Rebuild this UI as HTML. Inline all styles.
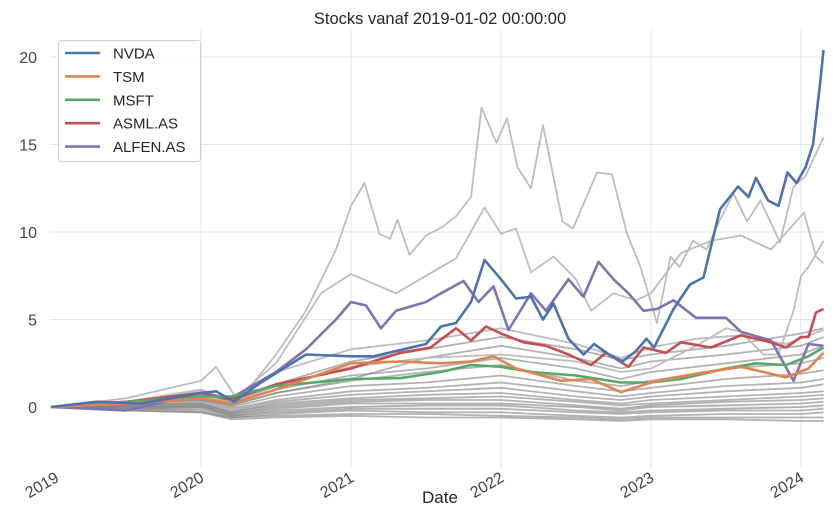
<!DOCTYPE html>
<html><head><meta charset="utf-8">
<style>
html,body{margin:0;padding:0;background:#fff;}
svg{display:block;font-family:"Liberation Sans",sans-serif;}
</style></head>
<body>
<svg id="chart" width="834" height="518" viewBox="0 0 834 518" xmlns="http://www.w3.org/2000/svg">
  <text x="440" y="24" text-anchor="middle" font-size="16.5" fill="#262626">Stocks vanaf 2019-01-02 00:00:00</text>
  <g id="grid"></g>
  <g id="gray"></g>
  <g id="main"></g>
  <g id="axes"></g>
  <text x="440" y="503" text-anchor="middle" font-size="17" fill="#262626">Date</text>
  <g id="legend"></g>
</svg>
<script>
const yTicks = [0, 5, 10, 15, 20];
const yTickLabels = ["0", "5", "10", "15", "20"];
const xTicks = [2019, 2020, 2021, 2022, 2023, 2024];
const xTickLabels = ["2019", "2020", "2021", "2022", "2023", "2024"];
const seriesNames = ["NVDA", "TSM", "MSFT", "ASML.AS", "ALFEN.AS"];
const seriesColors = ["#4c72b0", "#dd8452", "#55a868", "#c44e52", "#8172b3"];

const nvdaT = [2019,2019.3,2019.6,2020,2020.1,2020.22,2020.4,2020.55,2020.7,2021,2021.15,2021.35,2021.5,2021.6,2021.7,2021.8,2021.89,2022,2022.1,2022.2,2022.28,2022.35,2022.45,2022.55,2022.62,2022.72,2022.81,2022.9,2022.97,2023.02,2023.15,2023.26,2023.35,2023.46,2023.58,2023.65,2023.7,2023.78,2023.85,2023.91,2023.97,2024.03,2024.08,2024.13,2024.15];
const nvdaV = [0,0.3,0.2,0.8,0.9,0.3,1.4,2.2,3.0,2.9,2.9,3.3,3.6,4.6,4.8,6.0,8.4,7.3,6.2,6.3,5.0,5.9,3.9,3.0,3.6,3.0,2.6,3.2,3.9,3.4,5.6,7.0,7.4,11.3,12.6,12.0,13.1,11.8,11.5,13.4,12.8,13.7,15.0,18.7,20.4];
const tsmT = [2019,2019.5,2020,2020.2,2020.5,2021,2021.33,2021.6,2021.8,2021.95,2022.1,2022.4,2022.6,2022.8,2023,2023.3,2023.6,2023.9,2024.05,2024.15];
const tsmV = [0,0.2,0.5,0.2,1.0,2.5,2.6,2.5,2.6,2.9,2.2,1.5,1.6,0.85,1.4,1.9,2.3,1.7,2.2,3.1];
const msftT = [2019,2019.5,2020,2020.2,2020.5,2021,2021.33,2021.6,2021.8,2022,2022.2,2022.5,2022.8,2023,2023.2,2023.5,2023.7,2023.9,2024.05,2024.15];
const msftV = [0,0.3,0.6,0.6,1.2,1.6,1.65,2.0,2.4,2.3,2.0,1.8,1.4,1.4,1.6,2.2,2.5,2.4,2.9,3.4];
const asmlT = [2019,2019.5,2020,2020.2,2020.5,2021,2021.33,2021.53,2021.7,2021.8,2021.9,2022,2022.15,2022.3,2022.45,2022.6,2022.7,2022.85,2022.95,2023.1,2023.2,2023.4,2023.6,2023.8,2023.9,2024,2024.05,2024.1,2024.15];
const asmlV = [0,0.3,0.8,0.4,1.3,2.2,3.1,3.4,4.5,3.8,4.6,4.2,3.7,3.5,3.0,2.4,3.1,2.3,3.4,3.1,3.7,3.4,4.1,3.7,3.4,4.0,4.0,5.4,5.6];
const alfenT = [2019,2019.5,2020,2020.2,2020.5,2020.7,2020.9,2021,2021.1,2021.2,2021.3,2021.5,2021.6,2021.75,2021.85,2021.95,2022.05,2022.2,2022.3,2022.45,2022.55,2022.65,2022.75,2022.85,2022.95,2023.04,2023.15,2023.3,2023.5,2023.6,2023.8,2023.95,2024.05,2024.15];
const alfenV = [0,-0.2,0.8,0.5,2.0,3.3,5.0,6.0,5.8,4.5,5.5,6.0,6.5,7.2,6.0,6.9,4.4,6.5,5.5,7.3,6.3,8.3,7.3,6.5,5.5,5.6,6.1,5.1,5.1,4.3,3.8,1.5,3.6,3.5];

const g1T = [2019,2019.5,2020,2020.1,2020.25,2020.5,2020.7,2020.9,2021,2021.09,2021.19,2021.26,2021.31,2021.39,2021.5,2021.61,2021.7,2021.8,2021.87,2021.97,2022.04,2022.11,2022.2,2022.28,2022.41,2022.48,2022.64,2022.74,2022.84,2022.93,2023.04,2023.13,2023.19,2023.28,2023.37,2023.46,2023.55,2023.64,2023.73,2023.86,2023.95,2024.03,2024.15];
const g1V = [0,0.5,1.5,2.3,0.3,3.0,5.5,9.0,11.5,12.8,9.9,9.6,10.7,8.7,9.8,10.3,10.9,12.0,17.1,15.1,16.5,13.7,12.5,16.1,10.6,10.2,13.4,13.3,9.9,8.0,4.8,8.6,8.0,9.5,9.0,10.7,12.2,10.6,11.8,9.4,12.6,13.2,15.4];
const g2T = [2019,2019.5,2020,2020.2,2020.5,2020.8,2021,2021.3,2021.5,2021.7,2021.89,2022,2022.1,2022.2,2022.35,2022.5,2022.6,2022.75,2022.9,2023,2023.2,2023.4,2023.6,2023.8,2024.02,2024.1,2024.15];
const g2V = [0,0.3,1.0,0.3,2.5,6.5,7.6,6.5,7.5,8.5,11.4,9.9,10.2,7.7,8.6,7.3,5.5,6.5,6.1,6.5,8.8,9.5,9.8,9.0,11.1,8.6,8.2];
const g3T = [2019,2019.5,2020,2020.2,2020.5,2021,2021.5,2022,2022.5,2022.8,2023,2023.3,2023.5,2023.6,2023.75,2023.85,2023.95,2024,2024.05,2024.15];
const g3V = [0,0.2,0.6,0.2,1.2,2.3,2.8,3.0,2.6,2.0,2.2,3.5,4.5,4.3,3.0,3.0,5.5,7.5,8.0,9.5];
const g4T = [2019,2019.5,2020,2020.2,2020.5,2021,2021.5,2022,2022.5,2022.8,2023,2023.3,2023.6,2023.9,2024.15];
const g4V = [0,0.3,0.9,0.4,2.0,3.3,3.8,4.5,3.6,2.8,3.4,3.9,4.1,3.6,4.4];

const lowT = [2019,2019.5,2020,2020.2,2020.5,2021,2021.5,2022,2022.5,2022.8,2023,2023.5,2024,2024.15];
const low1 = [0,0.3,0.6,0.2,1.0,1.8,2.2,2.8,2.2,1.6,2.0,2.5,3.0,3.5];
const low2 = [0,0.2,0.5,0.1,0.8,1.5,2.0,2.4,1.5,1.2,1.5,2.2,2.5,2.8];
const low3 = [0,0.2,0.4,0,0.6,1.2,1.4,1.8,1.2,0.9,1.1,1.6,1.9,2.1];
const low4 = [0,0.1,0.3,-0.1,0.4,0.9,1.1,1.4,0.9,0.6,0.8,1.2,1.4,1.6];
const low5 = [0,0.1,0.2,-0.2,0.3,0.7,0.9,1.1,0.6,0.4,0.6,0.9,1.1,1.3];
const low6 = [0,0.1,0.2,-0.3,0.2,0.5,0.7,0.8,0.4,0.2,0.4,0.6,0.8,0.9];
const low7 = [0,0,0.1,-0.3,0.1,0.4,0.5,0.6,0.3,0.1,0.2,0.4,0.6,0.7];
const low8 = [0,0,0.1,-0.4,0,0.3,0.4,0.4,0.1,-0.1,0.1,0.3,0.4,0.5];
const low9 = [0,0,0,-0.4,-0.1,0.2,0.2,0.2,0,-0.2,0,0.1,0.2,0.3];
const low10 = [0,-0.1,0,-0.5,-0.2,0,0.1,0.1,-0.2,-0.3,-0.2,-0.1,0,0.1];
const low11 = [0,-0.1,-0.1,-0.5,-0.3,-0.1,-0.1,-0.1,-0.3,-0.4,-0.3,-0.2,-0.2,-0.1];
const low12 = [0,-0.1,-0.2,-0.6,-0.4,-0.2,-0.3,-0.3,-0.5,-0.6,-0.5,-0.4,-0.4,-0.3];
const low13 = [0,-0.2,-0.3,-0.6,-0.5,-0.4,-0.4,-0.5,-0.6,-0.7,-0.6,-0.6,-0.6,-0.6];
const low14 = [0,-0.2,-0.3,-0.7,-0.6,-0.5,-0.6,-0.6,-0.7,-0.8,-0.7,-0.7,-0.8,-0.8];
const low15 = [0,0.2,0.4,0.1,0.8,1.6,2.8,3.5,2.8,2.2,2.6,3.0,3.5,4.0];
const low16 = [0,0.3,0.7,0.3,1.3,2.6,3.3,4.0,3.3,2.7,3.0,3.5,4.2,4.5];

const NS = "http://www.w3.org/2000/svg";
const X0 = 51, PX_PER_YEAR = 150, Y0 = 407, PX_PER_UNIT = 17.5;
const PLOT_L = 50, PLOT_R = 824, PLOT_T = 30, PLOT_B = 468;
function xScale(t){ return X0 + (t - 2019) * PX_PER_YEAR; }
function yScale(v){ return Y0 - v * PX_PER_UNIT; }
function mk(tag, parent){ const e = document.createElementNS(NS, tag); parent.appendChild(e); return e; }
function pts(ts, vs){ return ts.map((t,i)=>xScale(t).toFixed(1)+","+yScale(vs[i]).toFixed(1)).join(" "); }

const grid = document.getElementById("grid");
yTicks.forEach((v)=>{
  const l = mk("line", grid);
  
  
  l.setAttribute("x1", PLOT_L); l.setAttribute("x2", PLOT_R);
  l.setAttribute("y1", yScale(v)); l.setAttribute("y2", yScale(v));
  l.setAttribute("stroke", "#e6e6e6"); l.setAttribute("stroke-width", "1");
});
xTicks.forEach((t)=>{
  if (t === 2019) return;
  const l = mk("line", grid);
  
  
  l.setAttribute("x1", xScale(t)); l.setAttribute("x2", xScale(t));
  l.setAttribute("y1", PLOT_T); l.setAttribute("y2", PLOT_B);
  l.setAttribute("stroke", "#e6e6e6"); l.setAttribute("stroke-width", "1");
});

const gray = document.getElementById("gray");
const lowSeries = [low1,low2,low3,low4,low5,low6,low7,low8,low9,low10,low11,low12,low13,low14,low15,low16];
lowSeries.forEach((vs)=>{
  const p = mk("polyline", gray);
  
  
  p.setAttribute("points", pts(lowT, vs));
  p.setAttribute("fill", "none"); p.setAttribute("stroke", "rgba(128,128,128,0.6)");
  p.setAttribute("stroke-width", "1.8"); p.setAttribute("stroke-linejoin", "round");
});
[[g1T,g1V],[g2T,g2V],[g3T,g3V],[g4T,g4V]].forEach((s)=>{
  const p = mk("polyline", gray);
  
  
  p.setAttribute("points", pts(s[0], s[1]));
  p.setAttribute("fill", "none"); p.setAttribute("stroke", "#bdbdbd");
  p.setAttribute("stroke-width", "1.8"); p.setAttribute("stroke-linejoin", "round");
});

const main = document.getElementById("main");
const mainSeries = [[nvdaT,nvdaV],[tsmT,tsmV],[msftT,msftV],[asmlT,asmlV],[alfenT,alfenV]];
const drawOrder = [4,3,2,1,0];
drawOrder.forEach((i)=>{
  const p = mk("polyline", main);
  
  
  p.setAttribute("points", pts(mainSeries[i][0], mainSeries[i][1]));
  p.setAttribute("fill", "none"); p.setAttribute("stroke", seriesColors[i]);
  p.setAttribute("stroke-width", "2.6"); p.setAttribute("stroke-linejoin", "round");
});

const axes = document.getElementById("axes");
yTicks.forEach((v,i)=>{
  const tx = mk("text", axes);
  
  
  tx.setAttribute("x", 37); tx.setAttribute("y", yScale(v) + 6);
  tx.setAttribute("text-anchor", "end"); tx.setAttribute("font-size", "16"); tx.setAttribute("fill", "#444");
  tx.textContent = yTickLabels[i];
});
xTicks.forEach((t,i)=>{
  const tx = mk("text", axes);
  
  
  const x = (t === 2019 ? 55 : xScale(t) - 1), y = 482;
  tx.setAttribute("x", x); tx.setAttribute("y", y);
  tx.setAttribute("text-anchor", "end"); tx.setAttribute("font-size", "16"); tx.setAttribute("fill", "#444");
  tx.setAttribute("transform", "rotate(-30 " + x + " " + (y - 10) + ")");
  tx.textContent = xTickLabels[i];
});

const legend = document.getElementById("legend");
const box = mk("rect", legend);


box.setAttribute("x", 58.5); box.setAttribute("y", 40.5); box.setAttribute("width", 142); box.setAttribute("height", 121);
box.setAttribute("rx", 3); box.setAttribute("fill", "rgba(255,255,255,0.85)"); box.setAttribute("stroke", "#d0d0d0");
seriesNames.forEach((n,i)=>{
  const y = 53 + i * 23.4;
  const l = mk("line", legend);
  
  
  l.setAttribute("x1", 65); l.setAttribute("x2", 100); l.setAttribute("y1", y); l.setAttribute("y2", y);
  l.setAttribute("stroke", seriesColors[i]); l.setAttribute("stroke-width", "2.6");
  const tx = mk("text", legend);
  
  
  tx.setAttribute("x", 113); tx.setAttribute("y", y + 5.5);
  tx.setAttribute("font-size", "15"); tx.setAttribute("fill", "#262626");
  tx.textContent = n;
});
</script>
</body></html>
